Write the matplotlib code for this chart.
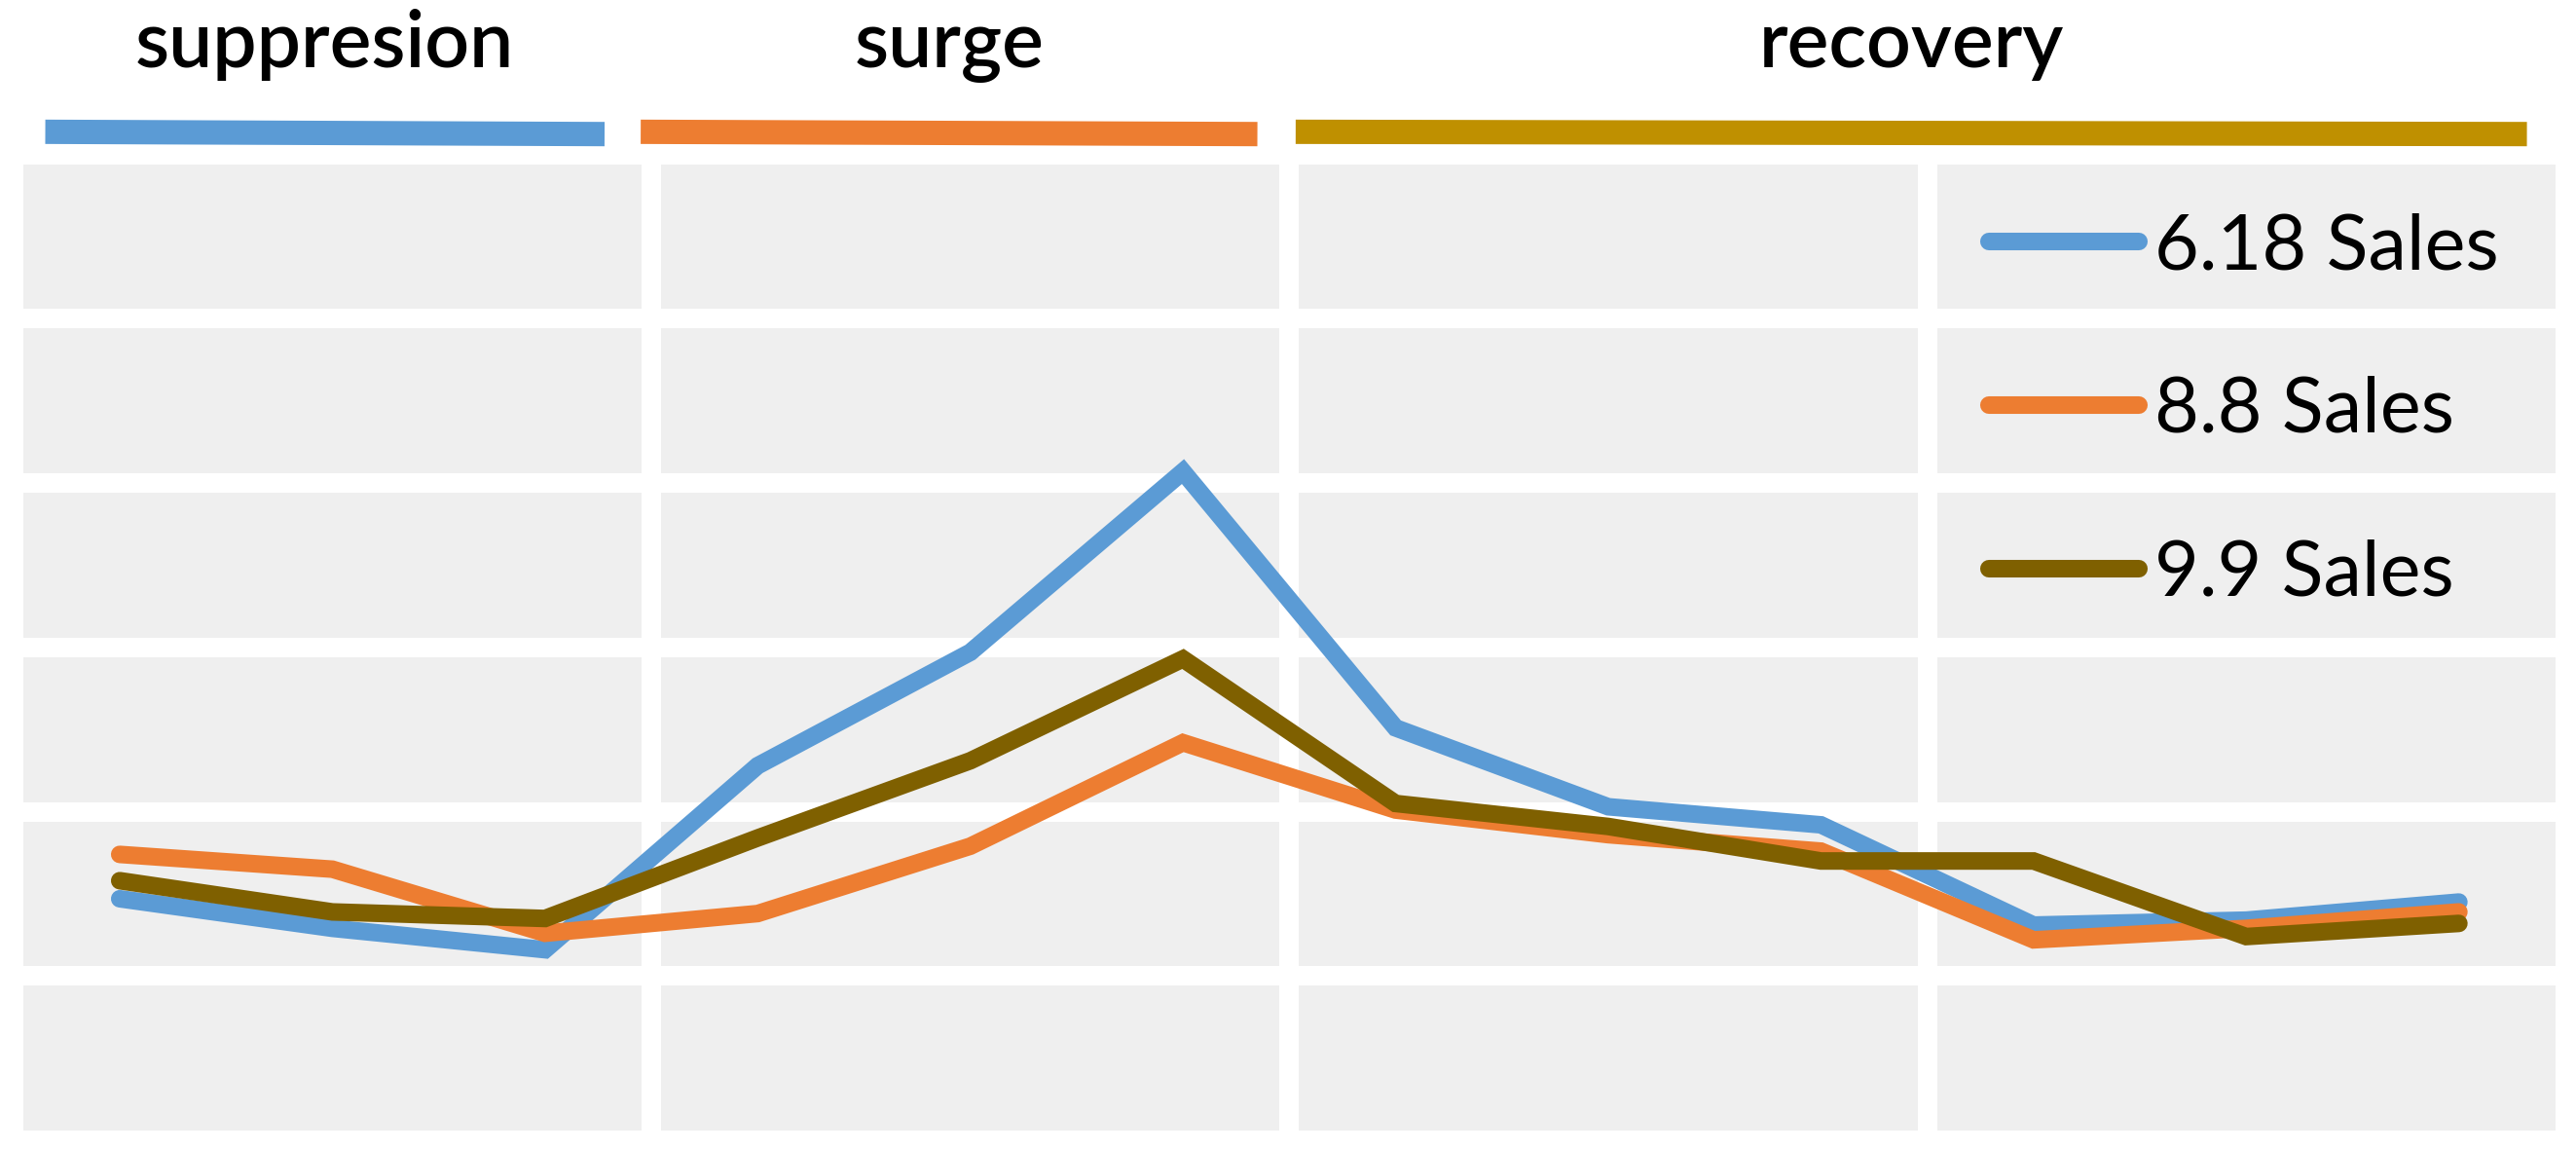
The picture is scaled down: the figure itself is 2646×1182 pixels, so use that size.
import matplotlib.pyplot as plt
from matplotlib import transforms

# monthly sales index (arbitrary units)
months = list(range(12))
sales_618 = [14.7, 12.9, 11.6, 22.8, 29.7, 40.7, 25.1, 20.3, 19.2, 13.1, 13.4, 14.5]
sales_88 = [17.4, 16.5, 12.6, 13.8, 17.9, 24.2, 20.1, 18.6, 17.6, 12.2, 12.9, 13.9]
sales_99 = [15.8, 13.9, 13.5, 18.4, 23.1, 29.3, 20.5, 19.1, 17.0, 17.0, 12.4, 13.2]
series_names = ['6.18 Sales', '8.8 Sales', '9.9 Sales']
series_colors = ['#5B9BD5', '#ED7D31', '#7F6000']

phase_names = ['suppresion', 'surge', 'recovery']
phase_start = [-0.35, 2.45, 5.53]
phase_end = [2.28, 5.35, 11.32]
phase_colors = ['#5B9BD5', '#ED7D31', '#BF9000']

fig = plt.figure(figsize=(26.46, 11.82), dpi=100)
ax = fig.add_axes([0.0052, 0.0093, 0.9906, 0.8565])
ax.set_facecolor('#EFEFEF')

for ys, name, col in zip([sales_618, sales_88, sales_99], series_names, series_colors):
    ax.plot(months, ys, color=col, lw=13, label=name,
            solid_capstyle='round', solid_joinstyle='miter')

ax.set_xlim(-0.5, 11.5)
ax.set_ylim(0, 60)
ax.set_xticks([-0.5, 2.5, 5.5, 8.5, 11.5])
ax.set_yticks([0, 10, 20, 30, 40, 50, 60])
ax.grid(True, color='white', lw=14.4)
ax.set_axisbelow(True)
ax.tick_params(length=0, labelbottom=False, labelleft=False)
for s in ax.spines.values():
    s.set_visible(False)

leg = ax.legend(loc='center left', bbox_to_anchor=(0.774, 0.74), frameon=False,
                prop={'family': 'Lato', 'size': 57}, handlelength=1.95,
                handletextpad=0.2, labelspacing=1.21, borderpad=0, borderaxespad=0)
for h in leg.get_lines():
    h.set_solid_capstyle('round')
    h.set_linewidth(13)

# phase bands and labels above the plot
trans = transforms.blended_transform_factory(ax.transData, fig.transFigure)
for name, x0, x1, col in zip(phase_names, phase_start, phase_end, phase_colors):
    ax.plot([x0, x1], [0.8855, 0.8835], color=col, lw=18, solid_capstyle='butt',
            transform=trans, clip_on=False)
    ax.text((x0 + x1) / 2, 1 - 69 / 1182, name, transform=trans, ha='center',
            va='baseline', fontsize=58, family='Lato', fontweight='semibold')

fig.savefig('out.png', dpi=100, facecolor='white')
